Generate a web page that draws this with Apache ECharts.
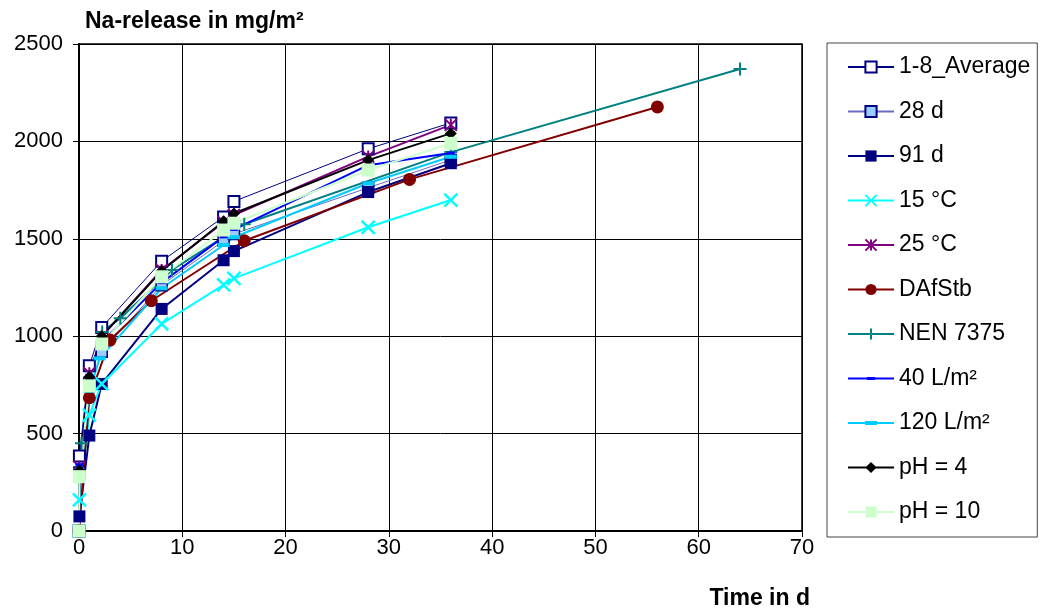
<!DOCTYPE html>
<html>
<head>
<meta charset="utf-8">
<script src="https://cdn.jsdelivr.net/npm/echarts@6/dist/echarts.min.js"></script>
<style>
  html, body { margin: 0; padding: 0; background: #fff; }
  #chart { width: 1041px; height: 612px; }
</style>
</head>
<body>
<div id="chart"></div>
<script>
// Cumulative Na release [time in days, mg/m²] per test condition
const avg18    = [[0,0],[0.04,385],[1,848],[2.2,1045],[8,1385],[14,1612],[15,1692],[28,1962],[36,2095]];
const d28      = [[0,0],[0.04,300],[1,760],[2.2,920],[8,1262],[14,1490],[15,1525],[28,1762],[36,1905]];
const d91      = [[0,0],[0.04,75],[1,490],[2.2,755],[8,1140],[14,1390],[15,1437],[28,1740],[36,1888]];
const t15      = [[0,0],[0.04,160],[1,595],[2.2,755],[8,1063],[14,1263],[15,1297],[28,1559],[36,1699]];
const t25      = [[0,0],[0.04,330],[1,810],[2.2,1000],[8,1340],[14,1585],[15,1622],[28,1922],[36,2085]];
const dafstb   = [[0,0],[1,684],[3,980],[7,1182],[16,1490],[32,1805],[56,2177]];
const nen7375  = [[0.25,450],[1,775],[2.25,1022],[4,1092],[9,1340],[16,1575],[36,1945],[64,2372]];
const l40      = [[0,0],[0.04,340],[1,800],[2,960],[8,1275],[14,1510],[15,1548],[28,1878],[36,1940]];
const l120     = [[0,0],[0.04,290],[1,720],[2,886],[8,1246],[14,1468],[15,1508],[28,1785],[36,1921]];
const ph4      = [[0,0],[0.04,310],[1,790],[2.2,1000],[8,1335],[14,1590],[15,1630],[28,1904],[36,2041]];
const ph10     = [[0,0],[0.04,279],[1,745],[2.2,960],[8,1305],[14,1545],[15,1580],[28,1853],[36,1990]];

const seriesNames = ['1-8_Average','28 d','91 d','15 °C','25 °C','DAfStb','NEN 7375','40 L/m²','120 L/m²','pH = 4','pH = 10'];
const xTicks = { min: 0, max: 70, step: 10 };
const yTicks = { min: 0, max: 2500, step: 500 };

const FONT = 'Liberation Sans, Arial, sans-serif';
const X_MARK = 'path://M0,0L10,10M0,10L10,0';
const STAR_MARK = 'path://M0,0L10,10M0,10L10,0M5,0L5,10';
const PLUS_MARK = 'path://M5,0L5,10M0,5L10,5';
const DASH_SMALL = 'path://M0,0h8v3h-8z';
const DASH_WIDE = 'path://M0,0h12v4h-12z';
// legend keys for the dash-marker series: a 2px line with the dash centred on it
const KEY_SMALL = 'path://M0,0h46v2h-46zM19,-0.5h8v3h-8z';
const KEY_WIDE = 'path://M0,0h46v2h-46zM17,-1h12v4h-12z';

function line(name, data, color, width, symbol, size, item, keepAspect) {
  return {
    name: name,
    type: 'line',
    data: data,
    symbol: symbol,
    symbolSize: size,
    symbolKeepAspect: !!keepAspect,
    showAllSymbol: true,
    lineStyle: { color: color, width: width },
    itemStyle: Object.assign({ color: color }, item || {}),
    emphasis: { disabled: true },
    animation: false
  };
}

const legendData = seriesNames.map(function (n, i) {
  if (i === 7) return { name: n, icon: KEY_SMALL, itemStyle: { color: '#0000ff', borderWidth: 0 } };
  if (i === 8) return { name: n, icon: KEY_WIDE, itemStyle: { color: '#00ccff', borderWidth: 0 } };
  return { name: n };
});

const chart = echarts.init(document.getElementById('chart'), null, { renderer: 'canvas' });

chart.setOption({
  backgroundColor: '#fff',
  animation: false,
  textStyle: { fontFamily: FONT, color: '#000' },
  title: [
    { text: 'Na-release in mg/m²', left: 80, top: 5,
      textStyle: { fontSize: 23, fontWeight: 'bold', color: '#000', fontFamily: FONT } },
    { text: 'Time in d', right: 226, top: 582,
      textStyle: { fontSize: 23, fontWeight: 'bold', color: '#000', fontFamily: FONT } }
  ],
  grid: { left: 79, right: 239, top: 44, bottom: 81, show: true, borderColor: '#000', borderWidth: 1.5, backgroundColor: '#fff' },
  legend: {
    orient: 'vertical',
    left: 827, top: 43,
    padding: [12, 7, 13, 20],
    itemWidth: 46, itemHeight: 14, itemGap: 20.5,
    borderColor: '#444', borderWidth: 1, backgroundColor: '#fff',
    textStyle: { fontSize: 23, lineHeight: 24, color: '#000', fontFamily: FONT },
    data: legendData
  },
  xAxis: {
    type: 'value', min: xTicks.min, max: xTicks.max, interval: xTicks.step,
    axisLine: { lineStyle: { color: '#000', width: 2 } },
    axisTick: { length: 6, lineStyle: { color: '#000', width: 1 } },
    axisLabel: { fontSize: 22, color: '#000', margin: 6, formatter: v => String(v) },
    splitLine: { show: true, lineStyle: { color: '#000', width: 1 } }
  },
  yAxis: {
    type: 'value', min: yTicks.min, max: yTicks.max, interval: yTicks.step,
    axisLine: { show: true, lineStyle: { color: '#000', width: 2 } },
    axisTick: { show: true, length: 6, lineStyle: { color: '#000', width: 1 } },
    axisLabel: { fontSize: 22, color: '#000', margin: 16, formatter: v => String(v) },
    splitLine: { show: true, lineStyle: { color: '#000', width: 1 } }
  },
  series: [
    line(seriesNames[0], avg18, '#000080', 1, 'rect', 11, { color: '#fff', borderColor: '#000080', borderWidth: 2 }),
    line(seriesNames[1], d28, '#6a6ac4', 1, 'rect', 11, { color: '#99ccff', borderColor: '#000080', borderWidth: 1.5 }),
    line(seriesNames[2], d91, '#000080', 2, 'rect', 12, { color: '#000080' }),
    line(seriesNames[3], t15, '#00ffff', 2, X_MARK, 13, { color: '#00ffff', borderColor: '#00ffff', borderWidth: 2.5 }),
    line(seriesNames[4], t25, '#800080', 2, STAR_MARK, 12, { color: '#800080', borderColor: '#800080', borderWidth: 2 }),
    line(seriesNames[5], dafstb, '#800000', 2, 'circle', 13, { color: '#800000' }),
    line(seriesNames[6], nen7375, '#008080', 2, PLUS_MARK, 13, { color: '#008080', borderColor: '#008080', borderWidth: 2 }),
    line(seriesNames[7], l40, '#0000ff', 2, DASH_SMALL, 8, { color: '#0000ff' }, true),
    line(seriesNames[8], l120, '#00ccff', 2, DASH_WIDE, 12, { color: '#00ccff' }, true),
    line(seriesNames[9], ph4, '#000000', 2, 'diamond', 12, { color: '#000' }),
    line(seriesNames[10], ph10, '#ccffcc', 2, 'rect', 13, { color: '#ccffcc' })
  ]
});
</script>
</body>
</html>
